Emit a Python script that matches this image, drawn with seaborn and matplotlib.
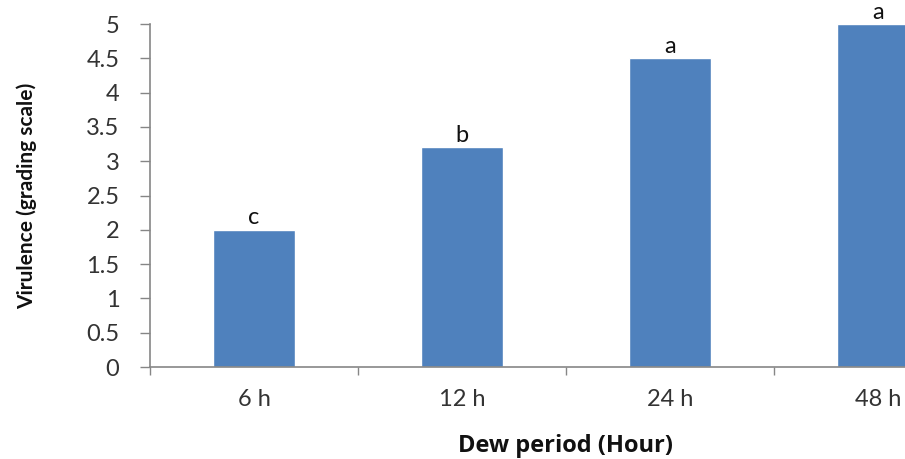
import matplotlib
matplotlib.use("Agg")
import matplotlib.pyplot as plt
import numpy as np
import pandas as pd
import seaborn as sns

# data
periods = ["6 h", "12 h", "24 h", "48 h"]
virulence = [2.0, 3.2, 4.5, 5.0]
letters = ["c", "b", "a", "a"]

sns.set_theme(style="white")
plt.rcParams["font.family"] = ["Lato", "DejaVu Sans"]

df = pd.DataFrame({"period": periods, "virulence": virulence})

fig = plt.figure(figsize=(9.05, 4.59), dpi=100)
# the reference image is cropped on the right, so the axes run past the figure edge
ax = fig.add_axes([0.1657, 0.2004, 0.9193, 0.7473])

sns.barplot(data=df, x="period", y="virulence", color="#4F81BD",
            saturation=1, width=0.395, ax=ax)

ax.bar_label(ax.containers[0], labels=letters, padding=1, fontsize=17, color="#111111")

ax.set_ylim(0, 5)
ax.set_xlim(-0.5, len(periods) - 0.5)
ax.set_yticks(np.arange(0, 5.01, 0.5))
ax.set_yticklabels(["0", "0.5", "1", "1.5", "2", "2.5", "3", "3.5", "4", "4.5", "5"])

# category labels centred, tick marks on category boundaries
ax.set_xticks(np.arange(-0.5, len(periods), 1), minor=True)
ax.tick_params(axis="x", which="major", length=0, pad=16, labelsize=17, labelcolor="#333333")
ax.tick_params(axis="x", which="minor", length=6, width=1, color="#868686", direction="out", bottom=True)
ax.tick_params(axis="y", length=7, width=1, color="#868686", direction="out", left=True,
               pad=15, labelsize=17, labelcolor="#333333")

for side in ["top", "right"]:
    ax.spines[side].set_visible(False)
for side in ["left", "bottom"]:
    ax.spines[side].set_color("#868686")
    ax.spines[side].set_linewidth(1.2)

ax.set_xlabel("Dew period (Hour)", fontsize=17, fontweight="bold", color="#111111",
              family=["Open Sans", "DejaVu Sans"])
ax.set_ylabel("Virulence (grading scale)", fontsize=15, fontweight="bold", color="#111111")
ax.xaxis.set_label_coords((566 - 150) / (982 - 150), -0.195)
ax.yaxis.set_label_coords(-0.136, 0.5)

fig.savefig("out.png", dpi=100)
